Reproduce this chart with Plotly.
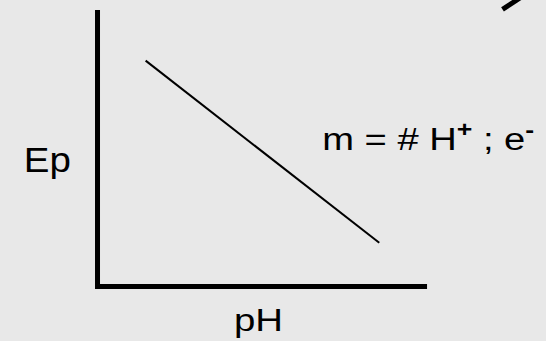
import plotly.graph_objects as go

# Schematic axes (pH horizontal, Ep vertical), in chart units
axis_x = [0, 0, 10]
axis_y = [10, 0, 0]

# Ep vs pH linear relation
line_ph = [1.46, 8.55]
line_ep = [8.17, 1.58]

# fragment of an arrow at the top-right corner
arrow_x = [12.29, 13.18]
arrow_y = [10.02, 10.72]

# text labels
label_text = ["Ep", "pH", "m = # H<sup><b>+</b></sup> ; e<sup><b>-</b></sup>"]
label_x = [-1.517, 4.88, 10.02]
label_y = [4.589, -1.212, 5.425]
label_size = [35, 32, 31]
label_stretch = [1.1, 1.2, 1.23]

x_range = [-2.959, 13.61]
y_range = [-1.971, 10.362]

font_family = "Arial, Liberation Sans, sans-serif"

fig = go.Figure()
fig.add_trace(go.Scatter(x=axis_x, y=axis_y, mode="lines",
                         line=dict(color="black", width=5), hoverinfo="skip"))
fig.add_trace(go.Scatter(x=line_ph, y=line_ep, mode="lines",
                         line=dict(color="black", width=2), hoverinfo="skip"))
fig.add_trace(go.Scatter(x=arrow_x, y=arrow_y, mode="lines",
                         line=dict(color="black", width=5), hoverinfo="skip"))

for t, x, y, s in zip(label_text, label_x, label_y, label_size):
    fig.add_annotation(x=x, y=y, text=t, showarrow=False,
                       xanchor="center", yanchor="middle",
                       font=dict(family=font_family, size=s, color="black"))

fig.update_layout(
    width=546, height=341,
    margin=dict(l=0, r=0, t=0, b=0),
    paper_bgcolor="#e8e8e8", plot_bgcolor="#e8e8e8",
    showlegend=False,
    xaxis=dict(range=x_range, visible=False, fixedrange=True),
    yaxis=dict(range=y_range, visible=False, fixedrange=True),
)

post = """
document.body.style.margin='0';
document.body.style.padding='0';
document.body.style.overflow='hidden';
document.body.style.background='#e8e8e8';
var gd = document.getElementById('{plot_id}');
var stretch = %s;
gd.querySelectorAll('g.annotation').forEach(function(g){
  var i = parseInt(g.getAttribute('data-index'));
  var t = g.querySelector('text.annotation-text');
  if (!t || isNaN(i)) return;
  var bb = t.getBBox();
  var cx = bb.x + bb.width / 2;
  var s = stretch[i];
  var prev = t.getAttribute('transform') || '';
  t.setAttribute('transform', prev + ' translate(' + cx + ',0) scale(' + s + ',1) translate(' + (-cx) + ',0)');
});
""" % (str(label_stretch))

fig.write_html("out.html", config={"displayModeBar": False}, post_script=post)
